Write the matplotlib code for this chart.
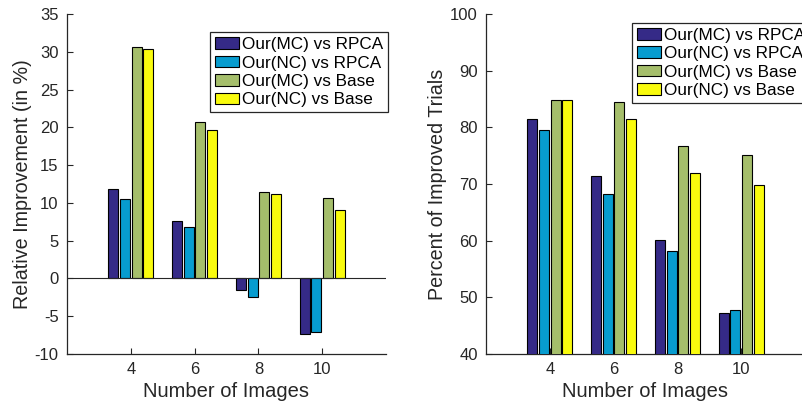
import numpy as np
import matplotlib
matplotlib.use("Agg")
import matplotlib.pyplot as plt

plt.rcParams['font.family'] = ['Liberation Sans', 'DejaVu Sans']
plt.rcParams['axes.unicode_minus'] = False

# data
n_images = [4, 6, 8, 10]
series = ['Our(MC) vs RPCA', 'Our(NC) vs RPCA', 'Our(MC) vs Base', 'Our(NC) vs Base']

rel_mc_rpca = [11.9, 7.6, -1.5, -7.3]
rel_nc_rpca = [10.5, 6.8, -2.4, -7.1]
rel_mc_base = [30.6, 20.7, 11.5, 10.7]
rel_nc_base = [30.4, 19.6, 11.2, 9.0]

pct_mc_rpca = [81.4, 71.4, 60.1, 47.2]
pct_nc_rpca = [79.5, 68.2, 58.1, 47.8]
pct_mc_base = [84.9, 84.5, 76.7, 75.1]
pct_nc_base = [84.8, 81.4, 72.0, 69.8]

# parula(4)
colors = ['#352A87', '#079CCF', '#A5BE6B', '#F9FB0E']
dark = '#262626'


def grouped_bars(ax, groups):
    x = np.array(n_images, dtype=float)
    step = 0.364
    w = 0.31
    for i, vals in enumerate(groups):
        ax.bar(x + (i - 1.5) * step, vals, width=w, color=colors[i],
               edgecolor='black', linewidth=0.8, label=series[i], zorder=3)


def style(ax):
    ax.spines['top'].set_visible(False)
    ax.spines['right'].set_visible(False)
    for s in ['left', 'bottom']:
        ax.spines[s].set_color(dark)
        ax.spines[s].set_linewidth(0.9)
    ax.tick_params(direction='in', length=4, width=0.8, colors=dark,
                   labelsize=12, pad=6)
    ax.set_xlim(2, 12)
    ax.set_xticks(n_images)
    ax.set_xlabel('Number of Images', fontsize=14.5, color=dark, labelpad=3)


fig = plt.figure(figsize=(8.02, 4.05), dpi=100)

ax1 = fig.add_axes([0.0835, 0.1259, 0.3978, 0.8395])
grouped_bars(ax1, [rel_mc_rpca, rel_nc_rpca, rel_mc_base, rel_nc_base])
ax1.axhline(0, color=dark, lw=0.8, zorder=4)
ax1.set_ylim(-10, 35)
ax1.set_yticks(np.arange(-10, 36, 5))
style(ax1)
ax1.set_ylabel('Relative Improvement (in %)', fontsize=14.2, color=dark, labelpad=2)

ax2 = fig.add_axes([0.606, 0.1259, 0.3977, 0.8395])
grouped_bars(ax2, [pct_mc_rpca, pct_nc_rpca, pct_mc_base, pct_nc_base])
ax2.set_ylim(40, 100)
ax2.set_yticks(np.arange(40, 101, 10))
style(ax2)
ax2.set_ylabel('Percent of Improved Trials', fontsize=14.2, color=dark, labelpad=2)

leg_kw = dict(loc='upper left', fontsize=12.3, handlelength=1.4, handleheight=0.67,
              handletextpad=0.15, labelspacing=0.2, borderpad=0.3, borderaxespad=0,
              fancybox=False, framealpha=1, edgecolor=dark)
for ax, anchor in [(ax1, (0.2618, 0.921)), (ax2, (0.788, 0.944))]:
    leg = ax.legend(bbox_to_anchor=anchor, bbox_transform=fig.transFigure, **leg_kw)
    leg.get_frame().set_linewidth(0.9)
    for t in leg.get_texts():
        t.set_color('black')

fig.savefig('out.png', dpi=100)
